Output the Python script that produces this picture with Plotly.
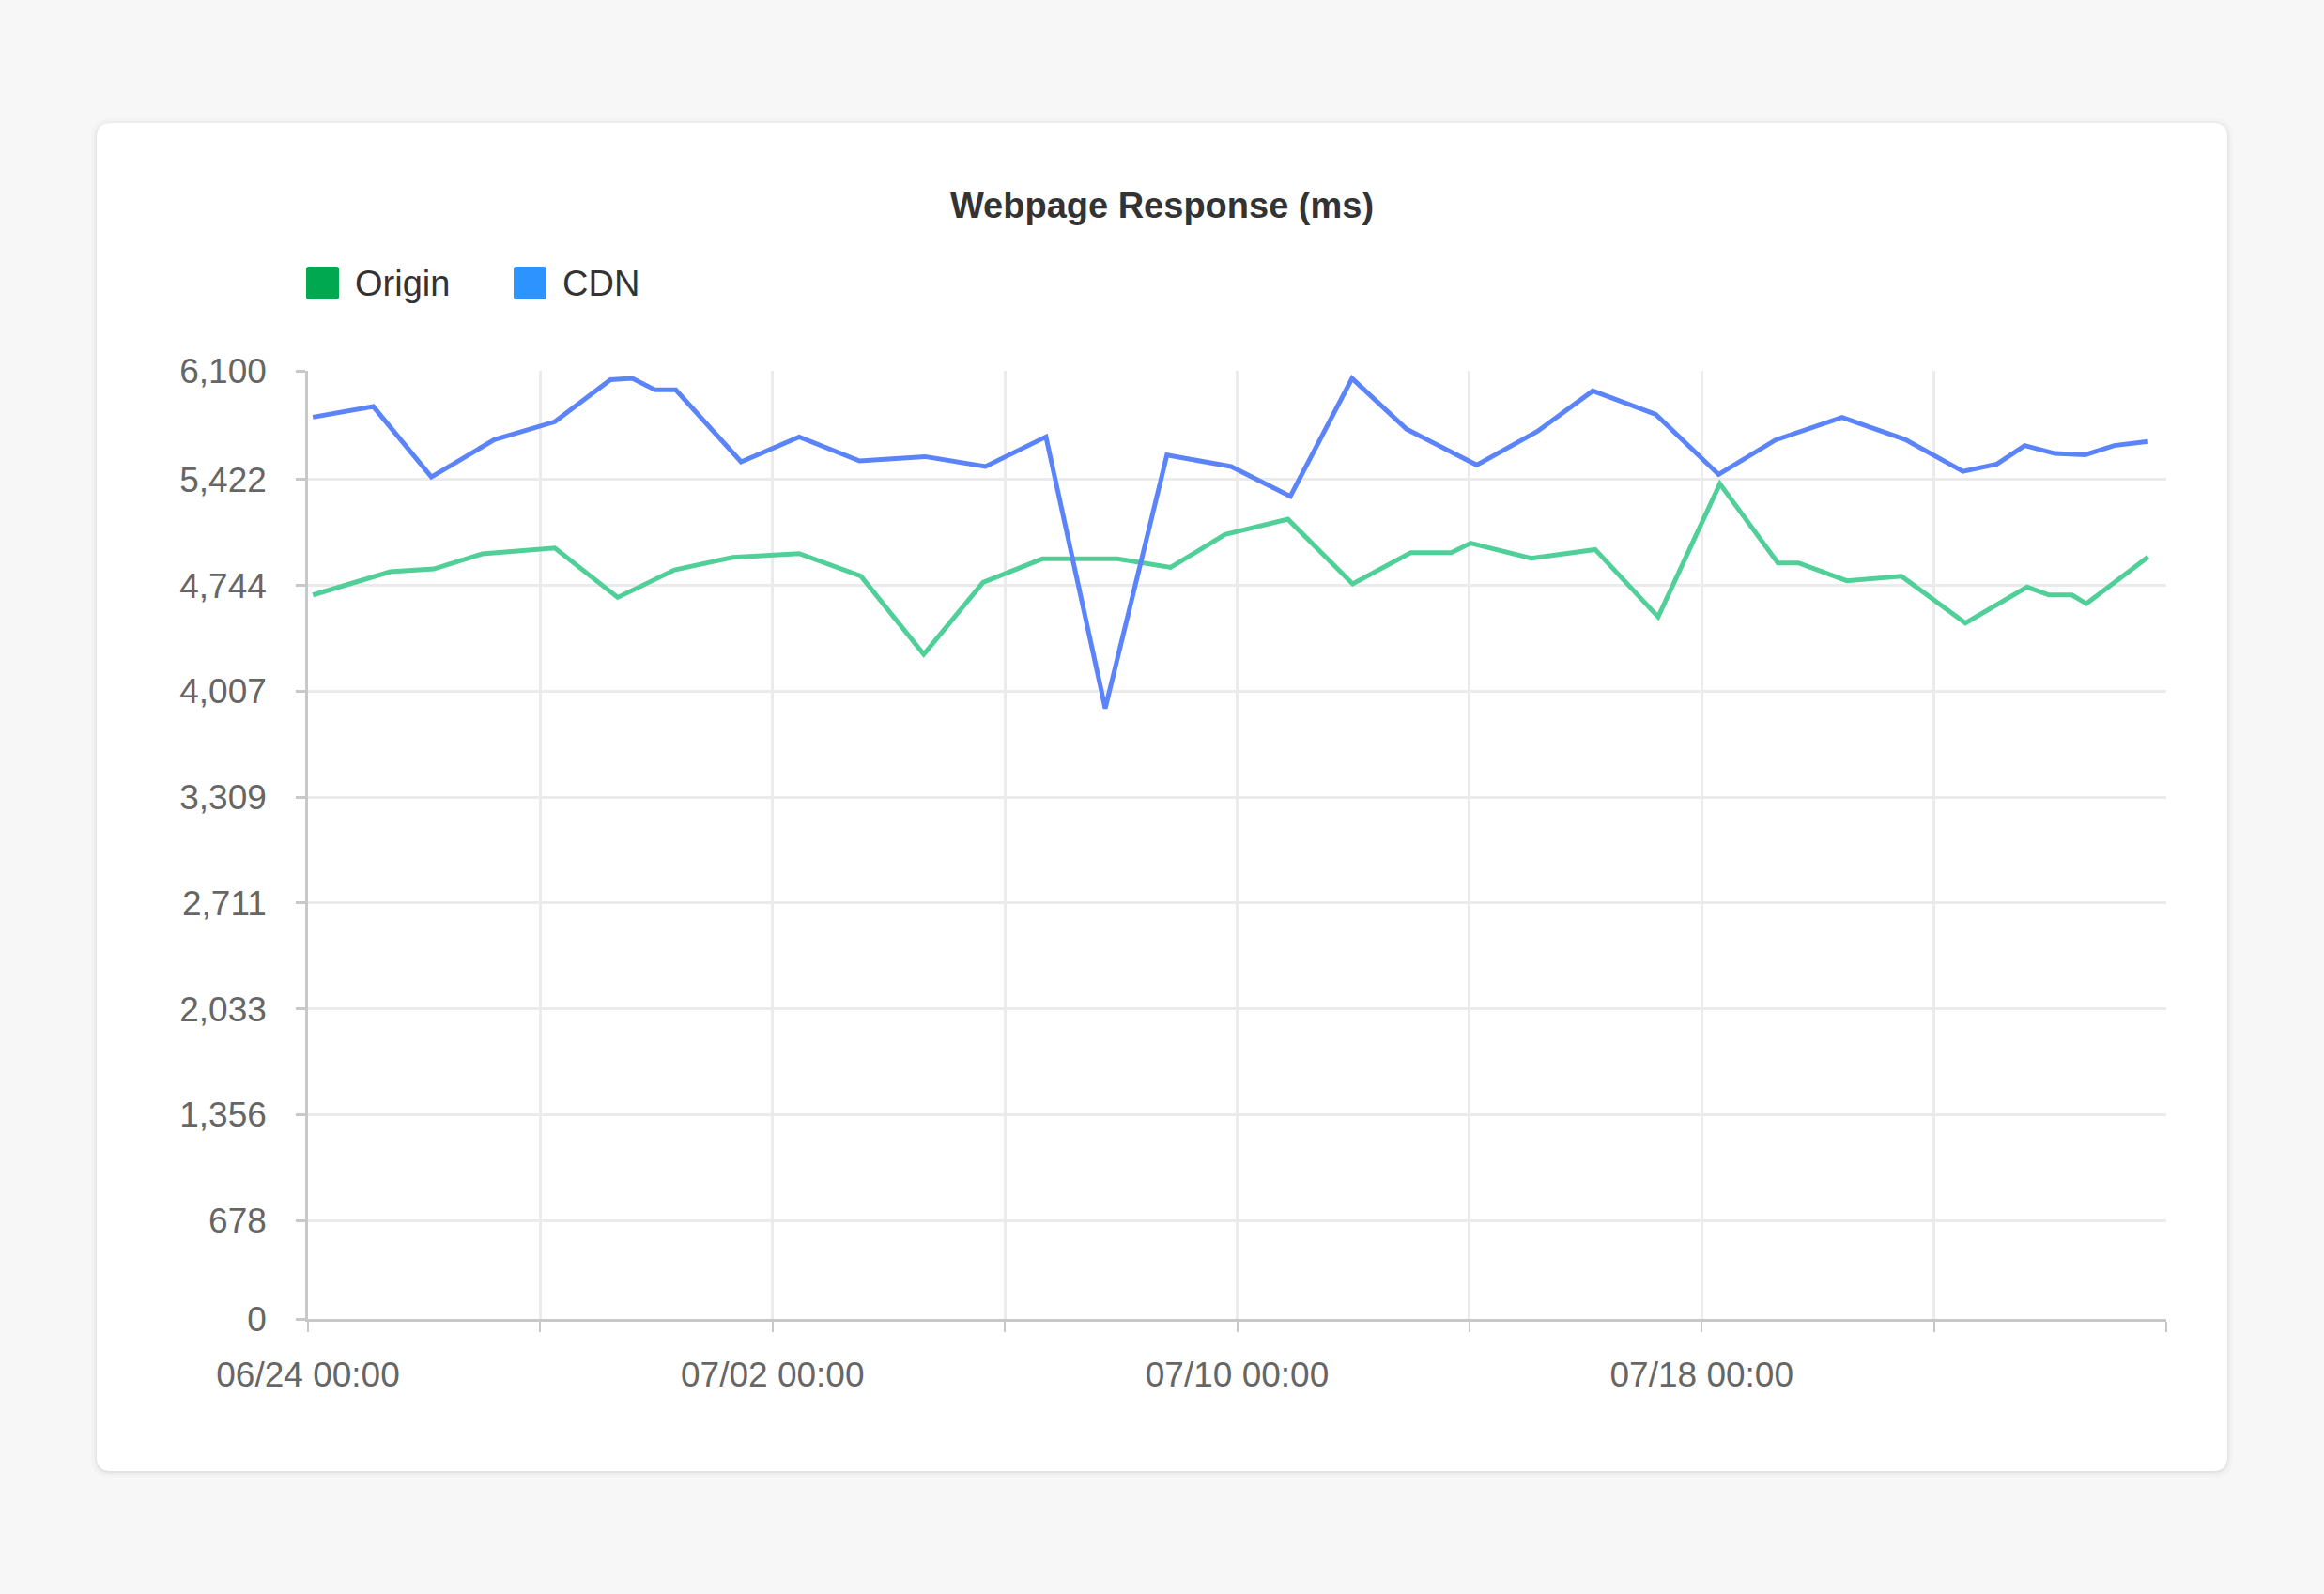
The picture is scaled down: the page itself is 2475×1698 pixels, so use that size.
import plotly.graph_objects as go

# Webpage response times (ms)
origin_times = [
    "2024-06-24 02:00", "2024-06-25 10:00", "2024-06-26 04:00", "2024-06-27 00:00",
    "2024-06-28 06:00", "2024-06-29 08:00", "2024-06-30 07:30", "2024-07-01 07:30",
    "2024-07-02 11:00", "2024-07-03 12:30", "2024-07-04 14:30", "2024-07-05 15:00",
    "2024-07-06 15:30", "2024-07-07 22:30", "2024-07-08 20:30", "2024-07-09 19:00",
    "2024-07-10 21:00", "2024-07-11 23:45", "2024-07-12 23:45", "2024-07-13 16:30",
    "2024-07-14 00:30", "2024-07-15 01:30", "2024-07-16 04:00", "2024-07-17 06:00",
    "2024-07-18 07:30", "2024-07-19 07:30", "2024-07-19 16:00", "2024-07-20 12:00",
    "2024-07-21 10:30", "2024-07-22 13:00", "2024-07-23 14:30", "2024-07-23 23:30",
    "2024-07-24 09:00", "2024-07-24 15:00", "2024-07-25 16:30",
]
origin_ms = [
    4658, 4807, 4825, 4922, 4960, 4642, 4819, 4900, 4924, 4779,
    4276, 4739, 4890, 4890, 4835, 5047, 5145, 4729, 4930, 4930,
    4991, 4894, 4950, 4517, 5373, 4864, 4864, 4749, 4779, 4477,
    4709, 4658, 4658, 4602, 4902,
]

cdn_times = [
    "2024-06-24 02:00", "2024-06-25 03:00", "2024-06-26 03:00", "2024-06-27 05:00",
    "2024-06-28 06:00", "2024-06-29 05:00", "2024-06-29 14:00", "2024-06-29 23:30",
    "2024-06-30 08:00", "2024-07-01 11:00", "2024-07-02 11:00", "2024-07-03 12:00",
    "2024-07-04 15:00", "2024-07-05 16:00", "2024-07-06 17:00", "2024-07-07 17:30",
    "2024-07-08 19:00", "2024-07-09 21:30", "2024-07-10 22:00", "2024-07-11 23:30",
    "2024-07-12 22:00", "2024-07-14 03:00", "2024-07-15 04:00", "2024-07-16 03:00",
    "2024-07-17 05:00", "2024-07-18 07:00", "2024-07-19 06:30", "2024-07-20 10:00",
    "2024-07-21 12:00", "2024-07-22 12:00", "2024-07-23 02:00", "2024-07-23 13:30",
    "2024-07-24 02:00", "2024-07-24 14:30", "2024-07-25 02:30", "2024-07-25 16:30",
]
cdn_ms = [
    5802, 5870, 5417, 5657, 5772, 6043, 6051, 5977, 5977, 5514,
    5675, 5520, 5548, 5484, 5675, 3928, 5558, 5484, 5293, 6051,
    5725, 5494, 5709, 5971, 5820, 5433, 5655, 5800, 5659, 5453,
    5500, 5619, 5568, 5560, 5619, 5645,
]

# axis ticks as drawn in the reference
x_ticks = [
    "2024-06-24", "2024-06-28", "2024-07-02", "2024-07-06", "2024-07-10",
    "2024-07-14", "2024-07-18", "2024-07-22", "2024-07-26",
]
x_tick_text = ["06/24 00:00", "", "07/02 00:00", "", "07/10 00:00", "", "07/18 00:00", "", ""]
y_ticks = [0, 633, 1314, 1995, 2676, 3357, 4038, 4718, 5400, 6100]
y_tick_text = ["0", "678", "1,356", "2,033", "2,711", "3,309", "4,007", "4,744", "5,422", "6,100"]

W, H = 2475, 1698
L, R, T, B = 328, 2307, 395, 1405  # plot area in pixels
FONT = "Liberation Sans, Arial, Helvetica, sans-serif"


def px(x):
    return (x - L) / (R - L)


def py(y):
    return (B - y) / (B - T)


def round_rect(x0, y0, x1, y1, r):
    # rounded rectangle path in paper coords, built from pixel corners
    pts = [
        f"M {px(x0 + r)},{py(y0)}",
        f"L {px(x1 - r)},{py(y0)}",
        f"Q {px(x1)},{py(y0)} {px(x1)},{py(y0 + r)}",
        f"L {px(x1)},{py(y1 - r)}",
        f"Q {px(x1)},{py(y1)} {px(x1 - r)},{py(y1)}",
        f"L {px(x0 + r)},{py(y1)}",
        f"Q {px(x0)},{py(y1)} {px(x0)},{py(y1 - r)}",
        f"L {px(x0)},{py(y0 + r)}",
        f"Q {px(x0)},{py(y0)} {px(x0 + r)},{py(y0)}",
        "Z",
    ]
    return " ".join(pts)


fig = go.Figure()

fig.add_trace(go.Scatter(
    x=origin_times, y=origin_ms, name="Origin", mode="lines",
    line=dict(color="#50cf99", width=5), showlegend=False,
))
fig.add_trace(go.Scatter(
    x=cdn_times, y=cdn_ms, name="CDN", mode="lines",
    line=dict(color="#5b84fb", width=5), showlegend=False,
))

shapes = []
# card shadow + card
for grow, alpha in [(6, 0.015), (3, 0.025), (1, 0.04)]:
    shapes.append(dict(
        type="path", xref="paper", yref="paper", layer="below",
        path=round_rect(103 - grow, 131 - grow + 1, 2372 + grow, 1567 + grow + 1, 15 + grow),
        fillcolor=f"rgba(0,0,0,{alpha})", line=dict(width=0),
    ))
shapes.append(dict(
    type="path", xref="paper", yref="paper", layer="below",
    path=round_rect(103, 131, 2372, 1567, 15),
    fillcolor="#ffffff", line=dict(width=0),
))

# legend swatches
legend_items = [("Origin", "#00a84f", 326), ("CDN", "#2d94ff", 547)]
annotations = []
for label, color, x0 in legend_items:
    shapes.append(dict(
        type="path", xref="paper", yref="paper",
        path=round_rect(x0, 284, x0 + 35, 319, 3),
        fillcolor=color, line=dict(width=0),
    ))
    annotations.append(dict(
        x=px(x0 + 50), y=py(302), xref="paper", yref="paper",
        text=label, showarrow=False, xanchor="left", yanchor="middle",
        font=dict(family=FONT, size=38, color="#333333"),
    ))

fig.update_layout(
    width=W, height=H,
    margin=dict(l=L, r=W - R, t=T, b=H - B),
    paper_bgcolor="#f7f7f7",
    plot_bgcolor="#ffffff",
    title=dict(
        text="<b>Webpage Response (ms)</b>",
        x=0.5, xref="container", xanchor="center",
        y=1 - 219 / H, yref="container", yanchor="middle",
        font=dict(family=FONT, size=38, color="#333333"),
    ),
    shapes=shapes,
    annotations=annotations,
    showlegend=False,
    xaxis=dict(
        type="date",
        range=["2024-06-24", "2024-07-26"],
        tickvals=x_ticks, ticktext=x_tick_text,
        showgrid=True, gridcolor="#ebebeb", gridwidth=2.5,
        showline=True, linecolor="#c8c8c8", linewidth=3,
        ticks="outside", ticklen=11, tickcolor="#c8c8c8", tickwidth=2,
        ticklabelstandoff=14,
        tickfont=dict(family=FONT, size=37, color="#666666"),
        zeroline=False,
    ),
    yaxis=dict(
        range=[0, 6100],
        tickvals=y_ticks, ticktext=y_tick_text,
        showgrid=True, gridcolor="#ebebeb", gridwidth=2.5,
        showline=True, linecolor="#c8c8c8", linewidth=2.5,
        ticks="outside", ticklen=10, tickcolor="#c8c8c8", tickwidth=2.5,
        ticklabelstandoff=24,
        tickfont=dict(family=FONT, size=37, color="#666666"),
        zeroline=False,
    ),
)

fig.write_html(
    "out.html",
    config={"displayModeBar": False},
    post_script="document.body.style.margin='0';",
)
